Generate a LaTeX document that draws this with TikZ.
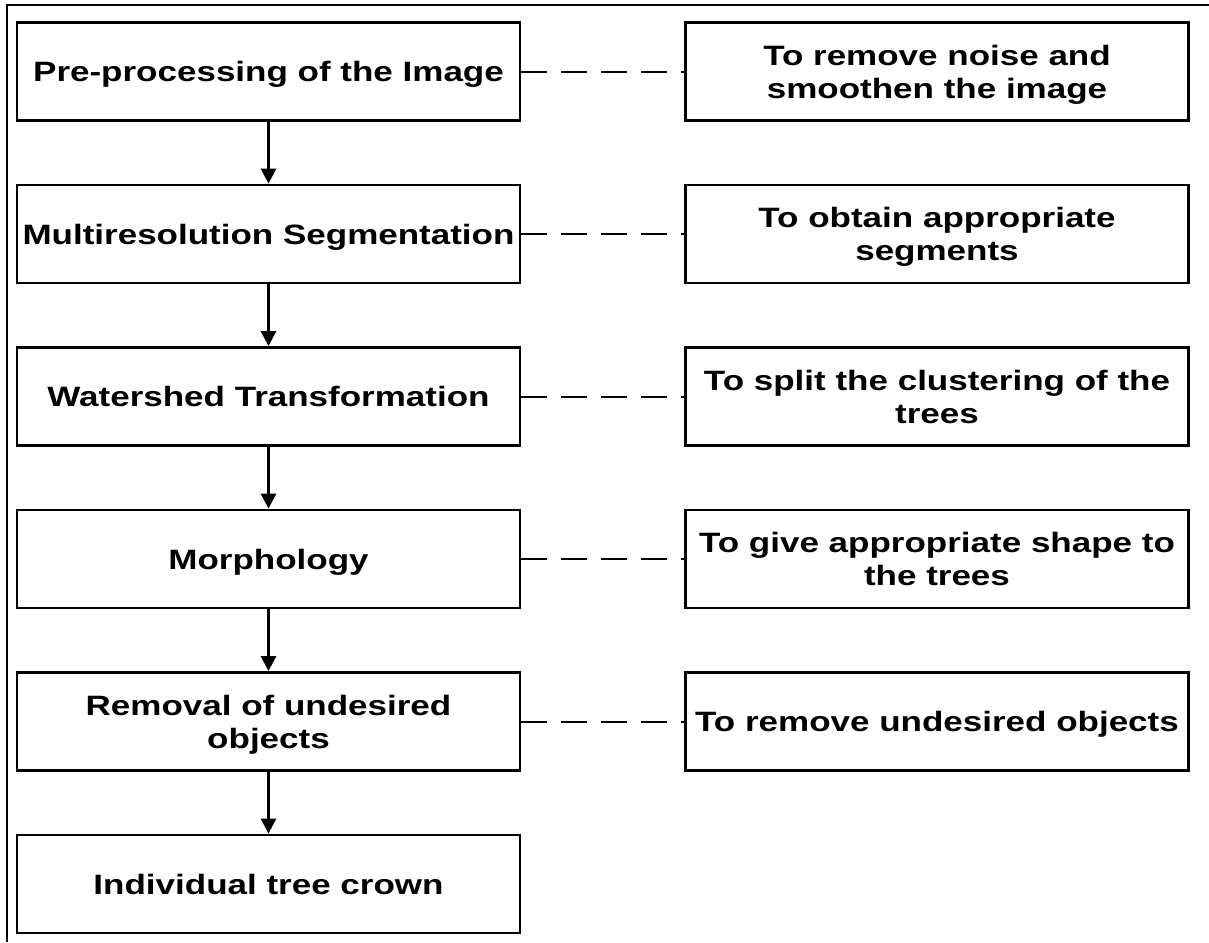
\documentclass[tikz,border=0pt]{standalone}
\usepackage{fontspec}
\setmainfont{Liberation Sans}[FakeStretch=1.25]
\usetikzlibrary{arrows.meta}
\begin{document}
\begin{tikzpicture}[x=0.5pt,y=-0.5pt,
  box/.style={draw, line width=1.4pt, minimum width=251.5pt, minimum height=49pt,
    inner sep=0pt, text depth=0pt, align=center, font=\bfseries\fontsize{14}{16.5}\selectfont},
  flow/.style={line width=1.4pt, -{Triangle[width=7.5pt,length=7.5pt]}},
  link/.style={line width=1pt, dash pattern=on 13pt off 7pt}]
\useasboundingbox (0,0) rectangle (1209,942);
\draw[line width=1pt] (7,942) -- (7,5) -- (1209,5);
\node[box] (L1) at (268.5,71.5) {Pre-processing of the Image};
\node[box] (L2) at (268.5,234) {Multiresolution Segmentation};
\node[box] (L3) at (268.5,396.5) {Watershed Transformation};
\node[box] (L4) at (268.5,559) {Morphology};
\node[box] (L5) at (268.5,721.5) {Removal of undesired\\objects};
\node[box] (L6) at (268.5,884) {Individual tree crown};
\node[box] (R1) at (937,71.5) {To remove noise and\\smoothen the image};
\node[box] (R2) at (937,234) {To obtain appropriate\\segments};
\node[box] (R3) at (937,396.5) {To split the clustering of the\\trees};
\node[box] (R4) at (937,559) {To give appropriate shape to\\the trees};
\node[box] (R5) at (937,721.5) {To remove undesired objects};
\draw[flow] (L1) -- (L2);
\draw[flow] (L2) -- (L3);
\draw[flow] (L3) -- (L4);
\draw[flow] (L4) -- (L5);
\draw[flow] (L5) -- (L6);
\draw[link] (L1) -- (R1);
\draw[link] (L2) -- (R2);
\draw[link] (L3) -- (R3);
\draw[link] (L4) -- (R4);
\draw[link] (L5) -- (R5);
\end{tikzpicture}
\end{document}
